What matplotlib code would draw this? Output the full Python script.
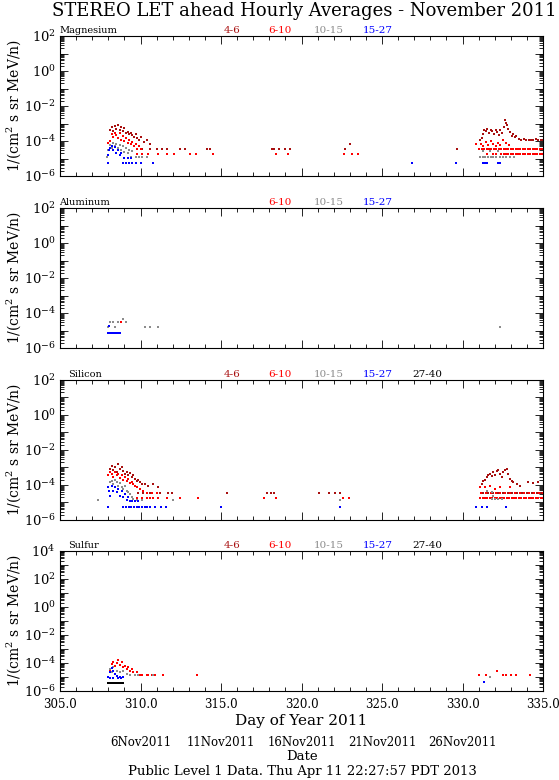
import numpy as np
import matplotlib
matplotlib.use('Agg')
import matplotlib.pyplot as plt
from matplotlib.ticker import LogLocator, FuncFormatter, NullFormatter, MultipleLocator, FormatStrFormatter

plt.rcParams['font.family'] = ['DejaVu Serif', 'DejaVu Sans']
plt.rcParams['mathtext.fontset'] = 'dejavuserif'


##########################     ----     DATA    ----          ##########################

energy_bins = ['4-6', '6-10', '10-15', '15-27', '27-40']
bin_colors = ['#A81010', '#FF0000', '#8C8C8C', '#0000FF', '#000000']

# ---- Magnesium
mg_46_day = [308.1, 308.2, 308.3, 308.4, 308.5, 308.6, 308.7, 308.8, 308.9, 309.0, 309.1, 309.2, 309.3, 309.4,
             309.5, 309.6, 309.7, 309.8, 309.9, 310.0, 310.2, 310.4, 310.6,
             310.11, 310.56, 311.0, 311.33, 311.66, 312.43, 312.77, 314.1, 314.3, 318.18, 318.29, 318.63, 318.96,
             319.29, 322.71, 323.04, 329.63,
             331.1, 331.2, 331.3, 331.35, 331.45, 331.55, 331.65, 331.75, 331.85, 331.95, 332.05, 332.15, 332.25,
             332.35, 332.45, 332.55, 332.64, 332.7, 332.75, 332.85, 332.95, 333.05, 333.15, 333.25, 333.35, 333.5,
             333.65, 333.8, 333.95, 334.1, 334.25, 334.4, 334.55, 334.7, 334.85, 335.0]
mg_46_val = [4.5e-4, 6.0e-4, 3.8e-4, 7.5e-4, 5.0e-4, 8.5e-4, 4.2e-4, 6.5e-4, 3.5e-4, 5.5e-4, 2.8e-4, 3.2e-4, 2.5e-4,
             3.0e-4, 2.2e-4, 1.8e-4, 2.4e-4, 1.5e-4, 1.2e-4, 1.6e-4, 9e-5, 1.1e-4, 7e-5,
             3.3e-5, 3.3e-5, 3.3e-5, 3.3e-5, 3.3e-5, 3.3e-5, 3.3e-5, 3.3e-5, 3.3e-5, 3.3e-5, 3.3e-5, 3.3e-5, 3.3e-5,
             3.3e-5, 3.3e-5, 6.5e-5, 3.3e-5,
             1.2e-4, 1.5e-4, 2.5e-4, 4.0e-4, 3.5e-4, 5.0e-4, 3.0e-4, 4.5e-4, 3.8e-4, 2.5e-4, 4.5e-4, 3.2e-4, 2.2e-4,
             4.0e-4, 3.0e-4, 6.0e-4, 1.6e-3, 1.1e-3, 7.8e-4, 5.0e-4, 3.2e-4, 2.0e-4, 2.6e-4, 1.6e-4, 1.9e-4, 1.3e-4,
             1.1e-4, 1.3e-4, 1.1e-4, 1.1e-4, 1.1e-4, 1.1e-4, 1.3e-4, 1.1e-4, 1.1e-4, 1.1e-4]

mg_610_day = [308.0, 308.1, 308.2, 308.3, 308.4, 308.5, 308.6, 308.7, 308.8, 308.9, 309.0, 309.1, 309.2, 309.3,
              309.4, 309.5, 309.6, 309.7, 309.8, 309.9, 310.0,
              309.78, 310.11, 310.44, 311.1, 311.66, 312.1, 313.1, 313.43, 314.5, 318.42, 319.17, 322.64, 323.15,
              323.48,
              330.85, 331.0, 331.15, 331.3, 331.45, 331.6, 331.75, 331.9, 332.05, 332.2, 332.35, 332.5, 332.7, 332.9,
              331.05, 331.2, 331.35, 331.5, 331.65, 331.8, 331.95, 332.1, 332.25, 332.4, 332.55, 332.7, 332.85, 333.0,
              333.15, 333.3, 333.45, 333.6, 333.75, 333.9, 334.05, 334.2, 334.35, 334.5, 334.65, 334.8, 334.95,
              331.5, 331.9, 332.1, 332.4, 332.55, 332.7, 332.85, 333.0, 333.15, 333.3, 333.45, 333.6, 333.75, 333.9,
              334.05, 334.2, 334.35, 334.5, 334.65, 334.8, 334.95]
mg_610_val = [8e-5, 1.0e-4, 2.5e-4, 1.8e-4, 3.0e-4, 2.2e-4, 1.5e-4, 2.8e-4, 1.2e-4, 2.0e-4, 1.0e-4, 1.5e-4, 8e-5,
              1.2e-4, 7e-5, 9e-5, 5e-5, 7e-5, 3.4e-5, 5e-5, 3.4e-5,
              1.7e-5, 1.7e-5, 1.7e-5, 1.7e-5, 1.7e-5, 1.7e-5, 1.7e-5, 1.7e-5, 1.7e-5, 1.7e-5, 1.7e-5, 1.7e-5, 1.7e-5,
              1.7e-5,
              6.5e-5, 3.4e-5, 7e-5, 5e-5, 9e-5, 6e-5, 1.0e-4, 7e-5, 5e-5, 8e-5, 6e-5, 1.2e-4, 8e-5, 6e-5,
              3.4e-5, 3.4e-5, 3.4e-5, 3.4e-5, 3.4e-5, 3.4e-5, 3.4e-5, 3.4e-5, 3.4e-5, 3.4e-5, 3.4e-5, 3.4e-5, 3.4e-5,
              3.4e-5, 3.4e-5, 3.4e-5, 3.4e-5, 3.4e-5, 3.4e-5, 3.4e-5, 3.4e-5, 3.4e-5, 3.4e-5, 3.4e-5, 3.4e-5, 3.4e-5,
              3.4e-5,
              1.7e-5, 1.7e-5, 1.7e-5, 1.7e-5, 1.7e-5, 1.7e-5, 1.7e-5, 1.7e-5, 1.7e-5, 1.7e-5, 1.7e-5, 1.7e-5, 1.7e-5,
              1.7e-5, 1.7e-5, 1.7e-5, 1.7e-5, 1.7e-5, 1.7e-5, 1.7e-5, 1.7e-5]

mg_1015_day = [307.9, 308.0, 308.1, 308.2, 308.3, 308.4, 308.5, 308.6, 308.7, 308.8, 308.9, 309.0, 309.1, 309.2,
               309.3, 309.4, 309.5, 309.7, 309.9, 310.1, 310.4,
               331.1, 331.25, 331.4, 331.6, 331.75, 331.9, 332.1, 332.3, 332.5, 332.7, 332.95, 333.2, 331.3, 331.7,
               332.2]
mg_1015_val = [1.3e-5, 3e-5, 6e-5, 4e-5, 8e-5, 5e-5, 7e-5, 4e-5, 6e-5, 3e-5, 5e-5, 2.5e-5, 4e-5, 2e-5,
               3e-5, 1.3e-5, 2.6e-5, 1.3e-5, 1.3e-5, 1.3e-5, 1.3e-5,
               1.3e-5, 1.3e-5, 1.3e-5, 1.3e-5, 1.3e-5, 1.3e-5, 1.3e-5, 1.3e-5, 1.3e-5, 1.3e-5, 1.3e-5, 1.3e-5, 2.6e-5,
               2.6e-5, 2.6e-5]

mg_1527_day = [308.0, 308.0, 308.05, 308.1, 308.2, 308.3, 308.4, 308.5, 308.6, 308.7, 308.8, 309.0, 309.2, 309.4,
               308.9, 309.1, 309.3, 309.5, 309.7, 310.0, 310.8,
               326.85, 329.58, 331.3, 331.4, 331.5, 332.2, 332.35]
mg_1527_val = [5.5e-6, 1.5e-5, 3e-5, 4e-5, 5e-5, 3e-5, 4.5e-5, 2e-5, 3e-5, 1.5e-5, 2e-5, 1.1e-5, 1.1e-5, 1.1e-5,
               5.5e-6, 5.5e-6, 5.5e-6, 5.5e-6, 5.5e-6, 5.5e-6, 5.5e-6,
               5.5e-6, 5.5e-6, 5.5e-6, 5.5e-6, 5.5e-6, 5.5e-6, 5.5e-6]

# ---- Aluminum
al_610_day = [308.8]
al_610_val = [3e-5]
al_1015_day = [308.0, 308.1, 308.3, 308.4, 308.6, 308.9, 309.1, 310.3, 310.6, 311.1, 332.3]
al_1015_val = [1.6e-5, 3e-5, 3e-5, 1.6e-5, 3e-5, 4.4e-5, 3e-5, 1.6e-5, 1.6e-5, 1.6e-5, 1.6e-5]
al_1527_day = [308.0, 308.1, 308.2, 308.3, 308.4, 308.5, 308.6, 308.7, 308.05]
al_1527_val = [7e-6, 7e-6, 7e-6, 7e-6, 7e-6, 7e-6, 7e-6, 7e-6, 1.8e-5]

# ---- Silicon
si_46_day = [308.11, 308.21, 308.31, 308.42, 308.52, 308.62, 308.73, 308.83, 308.93, 309.04, 309.14, 309.24,
             309.35, 309.45, 309.55, 309.66, 309.76, 309.87, 309.97, 310.07, 310.28, 310.49, 310.8, 311.1,
             309.87, 310.18, 310.59, 311.21, 311.73, 311.94, 315.37, 317.85, 318.1, 318.3, 321.1, 321.72, 322.05,
             322.38,
             331.19, 331.29, 331.4, 331.5, 331.6, 331.71, 331.81, 331.91, 332.02, 332.12, 332.23, 332.33, 332.43,
             332.54, 332.64, 332.74, 332.85, 332.95, 333.05, 333.16, 333.36, 333.57, 334.09, 334.4, 334.71,
             331.3, 331.6, 331.9, 332.2, 332.5, 332.8, 333.1, 333.4, 333.7, 334.0, 334.3, 334.6, 334.9]
si_46_val = [8.7e-4, 1.2e-3, 6.9e-4, 1.1e-3, 5.6e-4, 1.5e-3, 8.7e-4, 1.1e-3, 6.3e-4, 4.4e-4, 5.6e-4, 3.5e-4,
             4.9e-4, 2.9e-4, 3.5e-4, 2.3e-4, 1.8e-4, 2.0e-4, 1.5e-4, 1.2e-4, 1.2e-4, 9.3e-5, 1.2e-4, 7.6e-5,
             3.5e-5, 3.5e-5, 3.5e-5, 3.5e-5, 3.5e-5, 3.5e-5, 3.5e-5, 3.5e-5, 3.5e-5, 3.5e-5, 3.5e-5, 3.5e-5, 3.5e-5,
             3.5e-5,
             1.2e-4, 1.8e-4, 2.0e-4, 2.9e-4, 3.5e-4, 4.4e-4, 3.1e-4, 5.6e-4, 3.5e-4, 6.3e-4, 7.6e-4, 4.4e-4, 2.9e-4,
             5.6e-4, 7.0e-4, 8.7e-4, 4.4e-4, 2.3e-4, 1.8e-4, 1.5e-4, 1.2e-4, 9.3e-5, 1.5e-4, 1.3e-4, 1.5e-4,
             3.5e-5, 3.5e-5, 3.5e-5, 3.5e-5, 3.5e-5, 3.5e-5, 3.5e-5, 3.5e-5, 3.5e-5, 3.5e-5, 3.5e-5, 3.5e-5, 3.5e-5]

si_610_day = [308.0, 308.11, 308.21, 308.31, 308.42, 308.52, 308.62, 308.73, 308.83, 308.93, 309.04, 309.14,
              309.24, 309.35, 309.45, 309.55, 309.66, 309.76, 309.97, 310.18,
              310.38, 310.7, 311.0,
              309.76, 310.07, 310.38, 310.59, 310.8, 311.1, 311.63, 312.45, 313.58, 317.7, 318.4, 322.6, 322.94,
              331.09, 331.4, 331.71, 332.02, 332.33, 332.95,
              331.15, 331.45, 331.75, 332.05, 332.35, 332.65, 332.95, 333.25, 333.55, 333.85, 334.15, 334.45, 334.75,
              335.0,
              331.1, 331.25, 331.4, 331.55, 331.7, 331.85, 332.0, 332.15, 332.3, 332.45, 332.6, 332.75, 332.9, 333.05,
              333.2, 333.35, 333.5, 333.65, 333.8, 333.95, 334.1, 334.25, 334.4, 334.55, 334.7, 334.85, 335.0]
si_610_val = [3.5e-4, 5.6e-4, 4.4e-4, 2.9e-4, 5.6e-4, 3.5e-4, 4.4e-4, 2.6e-4, 3.5e-4, 2.0e-4, 2.9e-4, 1.7e-4,
              2.3e-4, 1.3e-4, 1.5e-4, 1.1e-4, 9.3e-5, 7.6e-5, 6e-5, 4.8e-5,
              3.5e-5, 3.5e-5, 3.5e-5,
              1.7e-5, 1.7e-5, 1.7e-5, 1.7e-5, 1.7e-5, 1.7e-5, 1.7e-5, 1.7e-5, 1.7e-5, 1.7e-5, 1.7e-5, 1.7e-5, 1.7e-5,
              7.6e-5, 7.6e-5, 9.3e-5, 6e-5, 7.6e-5, 7.6e-5,
              3.5e-5, 3.5e-5, 3.5e-5, 3.5e-5, 3.5e-5, 3.5e-5, 3.5e-5, 3.5e-5, 3.5e-5, 3.5e-5, 3.5e-5, 3.5e-5, 3.5e-5,
              3.5e-5,
              1.7e-5, 1.7e-5, 1.7e-5, 1.7e-5, 1.7e-5, 1.7e-5, 1.7e-5, 1.7e-5, 1.7e-5, 1.7e-5, 1.7e-5, 1.7e-5, 1.7e-5,
              1.7e-5, 1.7e-5, 1.7e-5, 1.7e-5, 1.7e-5, 1.7e-5, 1.7e-5, 1.7e-5, 1.7e-5, 1.7e-5, 1.7e-5, 1.7e-5, 1.7e-5,
              1.7e-5]

si_1015_day = [308.0, 308.11, 308.21, 308.31, 308.42, 308.52, 308.62, 308.73, 308.83, 308.93, 309.04, 309.14,
               309.24, 309.35, 309.45, 309.55, 309.76, 310.07, 307.38, 312.04, 322.38,
               331.5, 331.81, 331.91, 331.81, 332.02, 332.23, 332.43]
si_1015_val = [7.6e-5, 1.5e-4, 1.8e-4, 1.2e-4, 2.0e-4, 1.5e-4, 9.3e-5, 1.3e-4, 7.6e-5, 6e-5, 9.3e-5, 4.8e-5,
               3.9e-5, 3.1e-5, 2e-5, 1.6e-5, 1.4e-5, 1.4e-5, 1.4e-5, 1.4e-5, 1.4e-5,
               4.8e-5, 3.9e-5, 2.5e-5, 1.6e-5, 1.6e-5, 1.6e-5, 1.6e-5]

si_1527_day = [308.0, 308.06, 308.11, 308.21, 308.31, 308.42, 308.52, 308.62, 308.73, 308.83, 308.93, 309.04,
               309.14, 309.24, 309.35, 309.45, 309.66, 309.87,
               308.0, 308.93, 309.1, 309.27, 309.43, 309.6, 309.77, 309.93, 310.1, 310.27, 310.43, 310.6, 310.93,
               311.26, 311.6, 315.02, 322.38,
               330.84, 331.19, 331.5, 332.7]
si_1527_val = [7.6e-5, 4.8e-5, 2.5e-5, 9.3e-5, 4.8e-5, 7.6e-5, 3.9e-5, 6e-5, 2.5e-5, 4.8e-5, 2e-5, 3.1e-5,
               1.4e-5, 2e-5, 1.26e-5, 1.15e-5, 1.26e-5, 1.26e-5,
               5.9e-6, 5.9e-6, 5.9e-6, 5.9e-6, 5.9e-6, 5.9e-6, 5.9e-6, 5.9e-6, 5.9e-6, 5.9e-6, 5.9e-6, 5.9e-6, 5.9e-6,
               5.9e-6, 5.9e-6, 5.9e-6, 5.9e-6,
               5.9e-6, 5.9e-6, 5.9e-6, 5.9e-6]

# ---- Sulfur
s_610_day = [308.11, 308.21, 308.31, 308.42, 308.52, 308.62, 308.73, 308.83, 308.93, 309.04, 309.14, 309.24,
             309.35, 309.45, 309.55, 309.76,
             309.97, 310.1, 310.38, 310.49, 310.7, 310.9, 311.42, 313.49,
             331.0, 331.46, 332.15, 332.5, 332.7, 333.0, 333.3, 334.2]
s_610_val = [2.8e-5, 8.7e-5, 1.1e-4, 6.6e-5, 1.0e-4, 1.7e-4, 7.3e-5, 1.1e-4, 5e-5, 6.6e-5, 3.7e-5, 5e-5,
             2.8e-5, 3.7e-5, 2.4e-5, 2.2e-5,
             1.4e-5, 1.4e-5, 1.4e-5, 1.4e-5, 1.4e-5, 1.4e-5, 1.4e-5, 1.4e-5,
             1.3e-5, 1.3e-5, 2.7e-5, 1.3e-5, 1.3e-5, 1.3e-5, 1.3e-5, 1.3e-5]
s_1015_day = [308.11, 308.21, 308.31, 308.52, 308.73, 308.93, 309.14, 309.35, 309.66, 309.87, 310.8, 331.7]
s_1015_val = [3.7e-5, 2.2e-5, 5e-5, 2.8e-5, 2.2e-5, 2.8e-5, 1.6e-5, 1.4e-5, 1.4e-5, 1.4e-5, 1.4e-5, 1.0e-5]
s_1527_day = [308.0, 308.11, 308.21, 308.31, 308.42, 308.52, 308.73, 308.93, 308.1, 308.3, 308.6, 308.8, 331.35]
s_1527_val = [9.3e-6, 2.2e-5, 4.6e-5, 2.8e-5, 1.6e-5, 1.2e-5, 9.3e-6, 9.3e-6, 8.3e-6, 8.3e-6, 8.3e-6, 8.3e-6, 4.7e-6]
s_2740_day = [308.0, 308.1, 308.2, 308.3, 308.4, 308.5, 308.6, 308.7, 308.8, 308.9]
s_2740_val = [4e-6, 4e-6, 4e-6, 4e-6, 4e-6, 4e-6, 4e-6, 4e-6, 4e-6, 4e-6]

date_doy = [310, 315, 320, 325, 330]
date_labels = ['6Nov2011', '11Nov2011', '16Nov2011', '21Nov2011', '26Nov2011']

panels = [
    ('Magnesium', (1e-6, 1e2), ['4-6', '6-10', '10-15', '15-27'],
     {'4-6': (mg_46_day, mg_46_val), '6-10': (mg_610_day, mg_610_val),
      '10-15': (mg_1015_day, mg_1015_val), '15-27': (mg_1527_day, mg_1527_val)}),
    ('Aluminum', (1e-6, 1e2), ['6-10', '10-15', '15-27'],
     {'6-10': (al_610_day, al_610_val), '10-15': (al_1015_day, al_1015_val),
      '15-27': (al_1527_day, al_1527_val)}),
    ('Silicon', (1e-6, 1e2), ['4-6', '6-10', '10-15', '15-27', '27-40'],
     {'4-6': (si_46_day, si_46_val), '6-10': (si_610_day, si_610_val),
      '10-15': (si_1015_day, si_1015_val), '15-27': (si_1527_day, si_1527_val)}),
    ('Sulfur', (1e-6, 1e4), ['4-6', '6-10', '10-15', '15-27', '27-40'],
     {'6-10': (s_610_day, s_610_val), '10-15': (s_1015_day, s_1015_val),
      '15-27': (s_1527_day, s_1527_val), '27-40': (s_2740_day, s_2740_val)}),
]


##########################     ----     LAYOUT    ----          ##########################

W, H = 559, 780
left_px, right_px = 60, 543
panel_tops = [36, 208, 380, 551]
panel_h = 140
name_x_px = [59, 59, 68, 68]
bin_label_x_px = [232, 280, 329, 378, 427]


def even_decades(v, pos):
    e = int(round(np.log10(v)))
    if e % 2 == 0:
        return r'$10^{%d}$' % e
    return ''


fig = plt.figure(figsize=(W / 100, H / 100), dpi=100)

axes = []
for i, (name, ylim, shown, series) in enumerate(panels):
    top = panel_tops[i]
    ax = fig.add_axes([left_px / W, 1 - (top + panel_h) / H, (right_px - left_px) / W, panel_h / H])
    axes.append(ax)

    for b, col in zip(energy_bins, bin_colors):
        if b in series:
            d, v = series[b]
            ax.plot(d, v, 's', color=col, ms=1.9, mew=0, ls='none')

    ax.set_yscale('log')
    ax.set_xlim(305, 335)
    ax.set_ylim(*ylim)

    ax.yaxis.set_major_locator(LogLocator(base=10, numticks=30))
    ax.yaxis.set_minor_locator(LogLocator(base=10, subs=np.arange(2, 10), numticks=30))
    ax.yaxis.set_major_formatter(FuncFormatter(even_decades))
    ax.yaxis.set_minor_formatter(NullFormatter())
    ax.xaxis.set_major_locator(MultipleLocator(5))
    ax.xaxis.set_minor_locator(MultipleLocator(1))

    ax.tick_params(which='both', direction='in', top=True, right=True, width=0.6)
    ax.tick_params(which='major', length=6)
    ax.tick_params(which='minor', length=3)
    ax.tick_params(axis='y', labelsize=9.5, pad=3)
    for s in ax.spines.values():
        s.set_linewidth(0.8)

    if i < len(panels) - 1:
        ax.set_xticklabels([])
    else:
        ax.xaxis.set_major_formatter(FormatStrFormatter('%.1f'))
        ax.tick_params(axis='x', labelsize=8.5, pad=5)
        ax.set_xlabel('Day of Year 2011', fontsize=11, labelpad=2)

    ax.set_ylabel(r'1/(cm$^2$ s sr MeV/n)', fontsize=10)
    ax.yaxis.set_label_coords((23 - left_px) / (right_px - left_px), 0.5)

    # element name and energy bin labels above each panel
    ax.text((name_x_px[i] - left_px) / (right_px - left_px), 1.005, name, transform=ax.transAxes,
            ha='left', va='bottom', fontsize=7)
    for b, col, xp in zip(energy_bins, bin_colors, bin_label_x_px):
        if b in shown:
            ax.text((xp - left_px) / (right_px - left_px), 1.005, b, transform=ax.transAxes,
                    ha='center', va='bottom', fontsize=7.5, color=col)

fig.text(304 / W, 1 - 11 / H, 'STEREO LET ahead Hourly Averages - November 2011',
         ha='center', va='center', fontsize=13)

# date labels under the bottom axis
bottom_ax = axes[-1]
for d, lab in zip(date_doy, date_labels):
    bottom_ax.text(d, -0.37, lab, transform=bottom_ax.get_xaxis_transform(),
                   ha='center', va='center', fontsize=8.5)
fig.text(302 / W, 1 - 757 / H, 'Date', ha='center', va='center', fontsize=9.5)
fig.text(302 / W, 1 - 772 / H, 'Public Level 1 Data. Thu Apr 11 22:27:57 PDT 2013',
         ha='center', va='center', fontsize=9.5)

fig.savefig('out.png', dpi=100)
